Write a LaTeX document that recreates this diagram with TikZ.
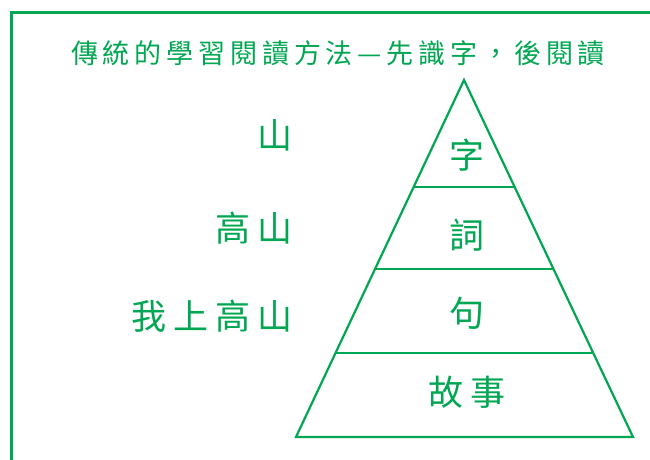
\documentclass[tikz,border=0pt]{standalone}
\usepackage{fontspec}
\newfontfamily\cjk{Noto Sans CJK TC}
\usetikzlibrary{calc}
\definecolor{grn}{RGB}{0,166,81}
\tikzset{
  lbl/.style={text=grn, inner sep=0pt, font=\cjk\fontsize{35}{35}\selectfont\addfontfeature{LetterSpace=20}},
  ttl/.style={text=grn, inner sep=0pt, font=\cjk\fontsize{27}{27}\selectfont\addfontfeature{LetterSpace=18}}
}
\begin{document}
\begin{tikzpicture}[x=1pt,y=1pt]
\useasboundingbox (0,0) rectangle (650,460);
\clip (0,0) rectangle (650,460);
\draw[grn, line width=3pt] (11,-10) -- (11,447) -- (660,447); % frame
\node[ttl] (title) at (338,407) {傳統的學習閱讀方法—先識字，後閱讀};
% the pyramid
\coordinate (apex) at (464,380);
\coordinate (bl) at (296,23);
\coordinate (br) at (633,23);
\draw[grn, line width=2.2pt, line join=miter] (apex) -- (bl) -- (br) -- cycle;
\foreach \t in {0.3,0.529,0.765} % edit here for the levels
\draw[grn, line width=2.2pt] ($(apex)!\t!(bl)$) -- ($(apex)!\t!(br)$);
\foreach \y/\w [count=\i] in {305/字,225/詞,147/句,68/故事}
\node[lbl] (lvl\i) at (467,\y) {\w};
% left side
\foreach \y/\w [count=\i] in {325/山,232/高山,144/我上高山}
\node[lbl, anchor=east] (ln\i) at (293,\y) {\w};
\end{tikzpicture}
\end{document}
